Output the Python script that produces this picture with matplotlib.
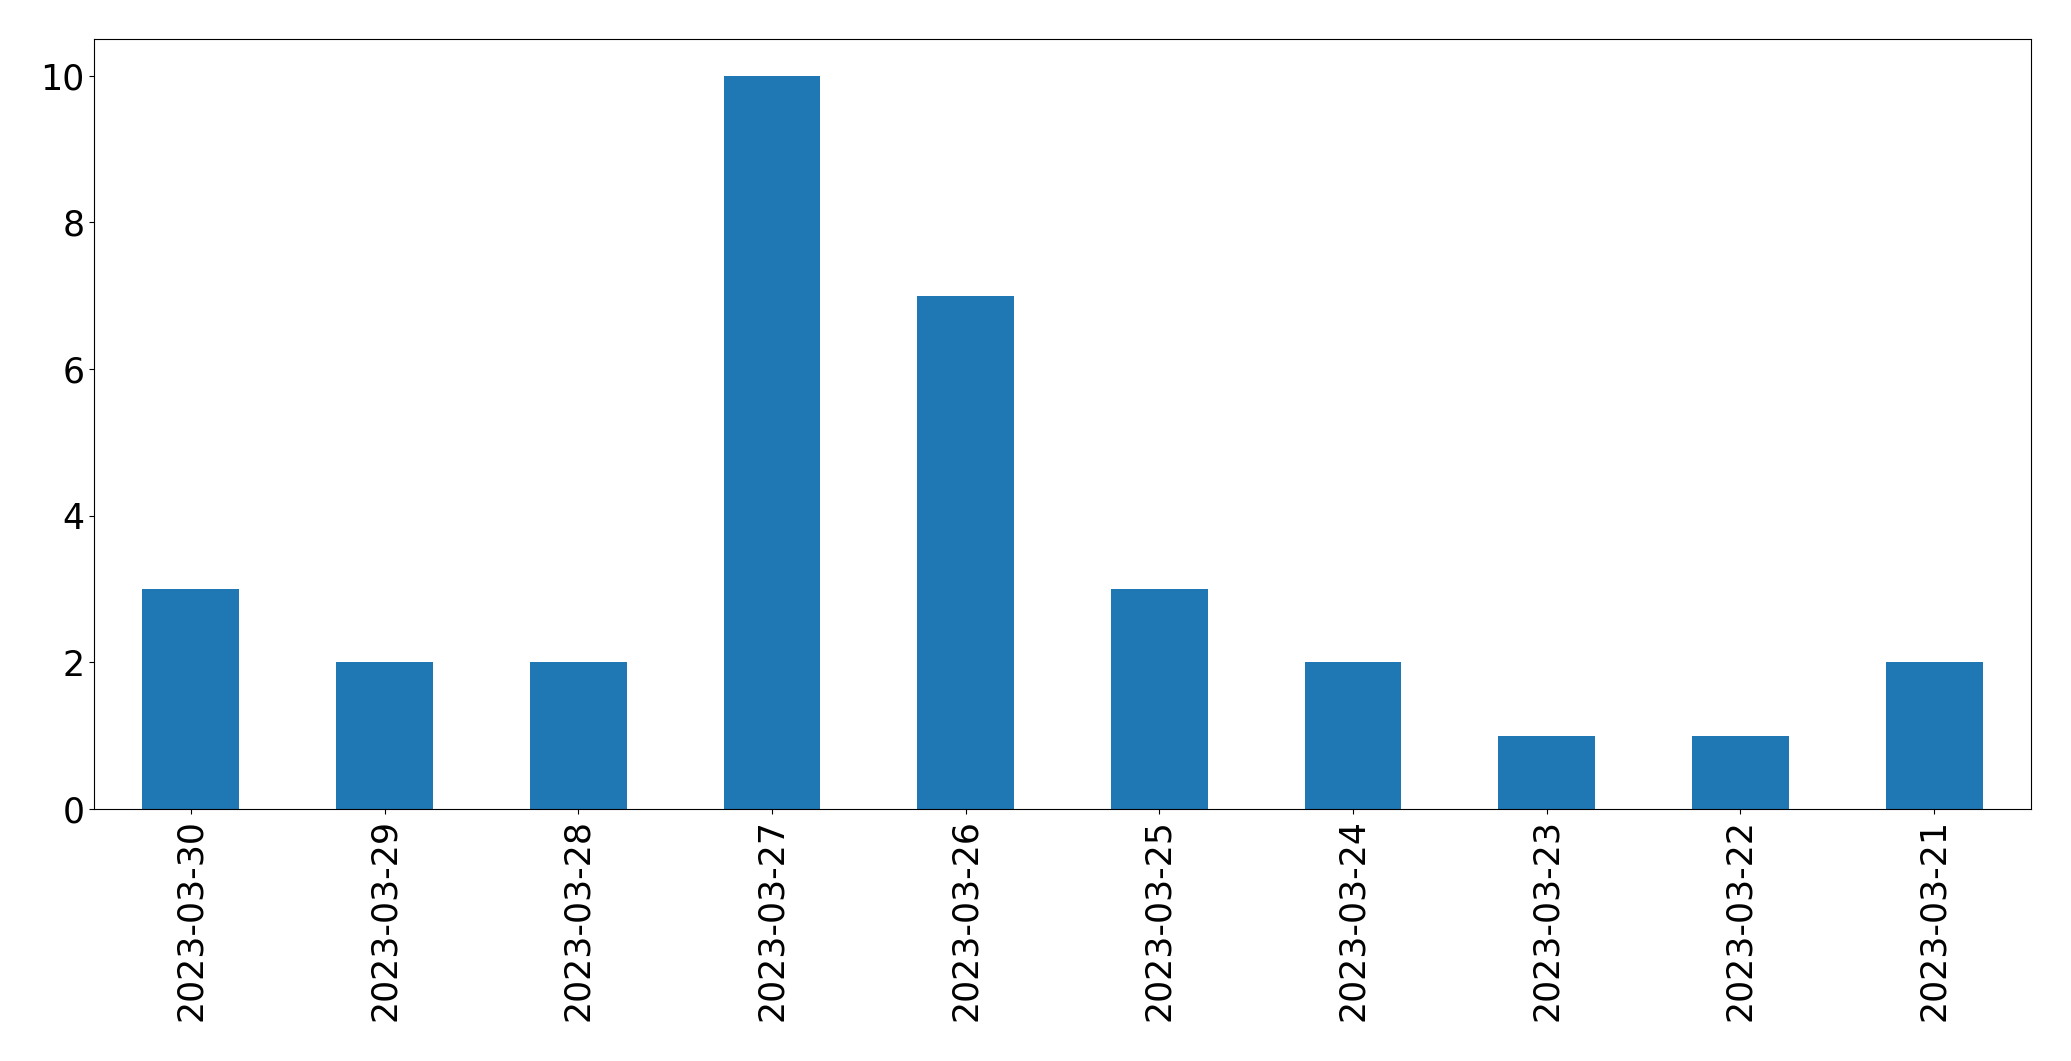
import matplotlib
matplotlib.use("Agg")
import matplotlib.pyplot as plt
import pandas as pd

dates = ["2023-03-30", "2023-03-29", "2023-03-28", "2023-03-27", "2023-03-26",
         "2023-03-25", "2023-03-24", "2023-03-23", "2023-03-22", "2023-03-21"]
counts = [3, 2, 2, 10, 7, 3, 2, 1, 1, 2]

s = pd.Series(counts, index=dates)

fig = plt.figure(figsize=(20.71, 10.61), dpi=100)
ax = fig.add_axes([94 / 2071, 1 - 809 / 1061, (2031 - 94) / 2071, (809 - 39) / 1061])
s.plot(kind="bar", ax=ax, color="#1f77b4")
ax.tick_params(axis="both", labelsize=25)
ax.tick_params(axis="x", rotation=90)

fig.savefig("out.png", dpi=100)
